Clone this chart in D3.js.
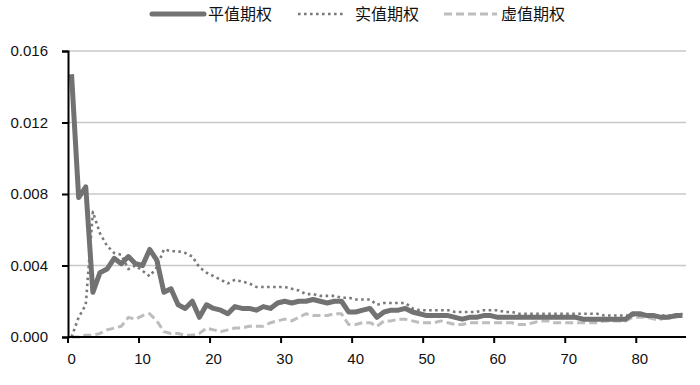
<!DOCTYPE html>
<html>
<head>
<meta charset="utf-8">
<script src="https://cdn.jsdelivr.net/npm/d3@7"></script>
<style>
  body { margin: 0; background: #fff; }
  text { font-family: "Liberation Sans", Arial, sans-serif; }
  .cn { font-family: "Noto Sans CJK SC", sans-serif; }
</style>
</head>
<body>
<script>
// 数据
const days = d3.range(87);
const atm = [0.0147,0.0078,0.0084,0.0025,0.0036,0.0038,0.0044,0.0041,0.0045,0.0041,
  0.0040,0.0049,0.0043,0.0025,0.0027,0.0018,0.0016,0.0020,0.0011,0.0018,
  0.0016,0.0015,0.0013,0.0017,0.0016,0.0016,0.0015,0.0017,0.0016,0.0019,
  0.0020,0.0019,0.0020,0.0020,0.0021,0.0020,0.0019,0.0020,0.0020,0.0014,
  0.0014,0.0015,0.0016,0.0011,0.0014,0.0015,0.0015,0.0016,0.0014,0.0013,
  0.0012,0.0012,0.0012,0.0012,0.0011,0.0010,0.0011,0.0011,0.0012,0.0012,
  0.0011,0.0011,0.0011,0.0011,0.0011,0.0011,0.0011,0.0011,0.0011,0.0011,
  0.0011,0.0011,0.0010,0.0010,0.0010,0.0010,0.0010,0.0010,0.0010,0.0013,
  0.0013,0.0012,0.0012,0.0011,0.0011,0.0012,0.0012];
const itm = [0.0000,0.0011,0.0018,0.0070,0.0058,0.0051,0.0047,0.0046,0.0038,0.0040,
  0.0037,0.0034,0.0039,0.0049,0.0048,0.0048,0.0047,0.0045,0.0039,0.0036,
  0.0034,0.0032,0.0030,0.0032,0.0031,0.0030,0.0028,0.0028,0.0028,0.0028,
  0.0028,0.0027,0.0026,0.0024,0.0024,0.0023,0.0023,0.0023,0.0022,0.0022,
  0.0021,0.0021,0.0021,0.0018,0.0019,0.0019,0.0019,0.0019,0.0016,0.0015,
  0.0015,0.0015,0.0015,0.0015,0.0014,0.0014,0.0014,0.0014,0.0015,0.0015,
  0.0015,0.0014,0.0014,0.0013,0.0013,0.0013,0.0013,0.0013,0.0013,0.0013,
  0.0013,0.0013,0.0013,0.0013,0.0013,0.0012,0.0012,0.0012,0.0012,0.0012,
  0.0012,0.0012,0.0012,0.0012,0.0012,0.0012,0.0013];
const otm = [0.0000,0.0000,0.0001,0.0001,0.0002,0.0004,0.0005,0.0006,0.0011,0.0010,
  0.0012,0.0013,0.0009,0.0003,0.0002,0.0002,0.0001,0.0001,0.0002,0.0005,
  0.0004,0.0003,0.0004,0.0005,0.0005,0.0006,0.0006,0.0006,0.0008,0.0009,
  0.0010,0.0009,0.0011,0.0013,0.0012,0.0012,0.0012,0.0013,0.0013,0.0007,
  0.0007,0.0008,0.0008,0.0006,0.0009,0.0009,0.0010,0.0010,0.0009,0.0008,
  0.0008,0.0008,0.0009,0.0008,0.0007,0.0007,0.0008,0.0008,0.0008,0.0008,
  0.0008,0.0008,0.0008,0.0007,0.0007,0.0008,0.0009,0.0009,0.0008,0.0008,
  0.0008,0.0008,0.0008,0.0008,0.0008,0.0009,0.0009,0.0009,0.0009,0.0011,
  0.0011,0.0011,0.0010,0.0010,0.0011,0.0011,0.0012];
const yTicks = [0, 0.004, 0.008, 0.012, 0.016];
const xTicks = [0, 10, 20, 30, 40, 50, 60, 70, 80];
const names = ["平值期权", "实值期权", "虚值期权"];

const W = 700, H = 385;
const svg = d3.select("body").append("svg")
  .attr("width", W).attr("height", H);

const x = d3.scaleBand().domain(days).range([68, 686]);
const y = d3.scaleLinear().domain([0, 0.016]).range([337, 51]);
const cx = d => x(d) + x.bandwidth() / 2;

// 网格线
svg.append("g").selectAll("line")
  .data(yTicks.filter(d => d > 0))
  .join("line")
  .attr("x1", 68).attr("x2", 686)
  .attr("y1", d => y(d)).attr("y2", d => y(d))
  .attr("stroke", "#c8c8c8").attr("stroke-width", 1.5);

// 线条
const styles = [
  { data: atm, color: "#727272", width: 5, dash: null },
  { data: itm, color: "#7a7a7a", width: 2.6, dash: "2.6,3.4" },
  { data: otm, color: "#bdbdbd", width: 3, dash: "8,4" }
];
const line = d3.line().x((d, i) => cx(days[i])).y(d => y(d));

styles.slice().reverse().forEach(s => {
  svg.append("path")
    .datum(s.data)
    .attr("d", line)
    .attr("fill", "none")
    .attr("stroke", s.color)
    .attr("stroke-width", s.width)
    .attr("stroke-linejoin", "round")
    .attr("stroke-dasharray", s.dash);
});

// 坐标轴
const yAxis = svg.append("g").attr("transform", "translate(68,0)")
  .call(d3.axisLeft(y).tickValues(yTicks).tickFormat(d3.format(".3f")).tickSizeOuter(0).tickSize(6));
yAxis.select(".domain").attr("stroke", "#000").attr("stroke-width", 2);
yAxis.selectAll(".tick line").attr("stroke", "#000").attr("stroke-width", 2);
yAxis.selectAll("text").attr("font-size", 15).attr("fill", "#111").attr("x", -20)
  .style("font-family", "Liberation Sans, Arial, sans-serif");

const xAxis = svg.append("g").attr("transform", "translate(0,337)");
xAxis.append("line").attr("x1", 68).attr("x2", 686)
  .attr("stroke", "#000").attr("stroke-width", 2);
xAxis.selectAll(".tk").data(xTicks).join("line")
  .attr("x1", d => x(d)).attr("x2", d => x(d))
  .attr("y1", 0).attr("y2", 6)
  .attr("stroke", "#000").attr("stroke-width", 2);
xAxis.selectAll(".lb").data(xTicks).join("text")
  .attr("x", d => cx(d)).attr("y", 27)
  .attr("text-anchor", "middle")
  .attr("font-size", 15).attr("fill", "#111")
  .text(d => d);

// 图例
const legX = [152, 298, 444];
const legW = [52, 47, 53];
const lg = svg.append("g");
styles.forEach((s, i) => {
  lg.append("line")
    .attr("x1", legX[i]).attr("x2", legX[i] + legW[i])
    .attr("y1", 14).attr("y2", 14)
    .attr("stroke", s.color)
    .attr("stroke-width", s.width)
    .attr("stroke-linecap", i === 0 ? "round" : "butt")
    .attr("stroke-dasharray", s.dash);
  lg.append("text")
    .attr("class", "cn")
    .attr("x", legX[i] + legW[i] + (i === 1 ? 10 : 4)).attr("y", 20)
    .attr("font-size", 16).attr("fill", "#111")
    .text(names[i]);
});
</script>
</body>
</html>
